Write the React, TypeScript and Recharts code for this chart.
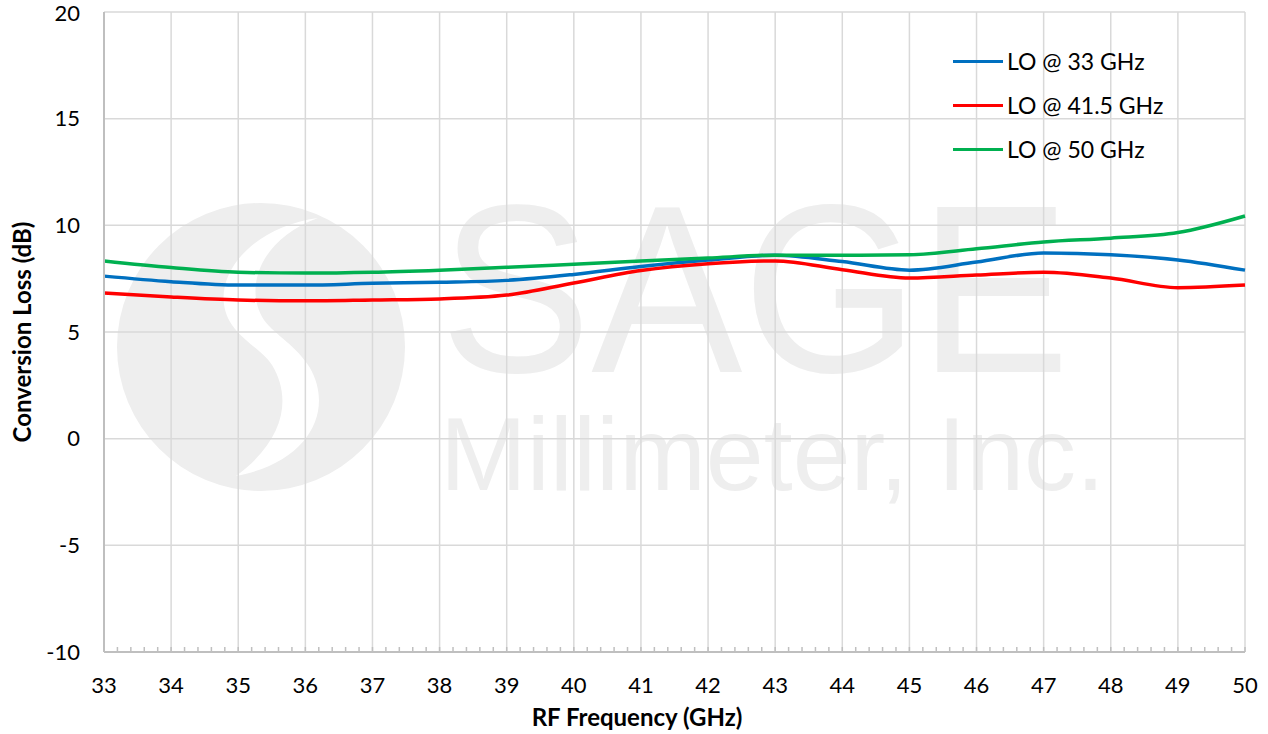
import React from 'react'
import { LineChart, Line, XAxis, YAxis, CartesianGrid, Legend } from 'recharts'

const FONT = 'Lato, "Noto Sans", sans-serif'

const freqGHz = [33, 34, 35, 36, 37, 38, 39, 40, 41, 42, 43, 44, 45, 46, 47, 48, 49, 50]
const lo33 = [7.62, 7.36, 7.2, 7.2, 7.28, 7.33, 7.42, 7.7, 8.07, 8.37, 8.6, 8.3, 7.9, 8.28, 8.7, 8.62, 8.38, 7.9]
const lo415 = [6.83, 6.64, 6.5, 6.46, 6.5, 6.55, 6.73, 7.3, 7.88, 8.2, 8.33, 7.92, 7.53, 7.67, 7.8, 7.53, 7.08, 7.2]
const lo50 = [8.33, 8.02, 7.8, 7.76, 7.8, 7.9, 8.03, 8.18, 8.33, 8.47, 8.6, 8.6, 8.62, 8.9, 9.22, 9.4, 9.66, 10.44]

const yTicks = [-10, -5, 0, 5, 10, 15, 20]
const series = [
  { key: 'lo33', name: 'LO @ 33 GHz', color: '#0070c0' },
  { key: 'lo415', name: 'LO @ 41.5 GHz', color: '#ff0000' },
  { key: 'lo50', name: 'LO @ 50 GHz', color: '#00b050' },
]

const data = freqGHz.map((f, i) => ({ f, lo33: lo33[i], lo415: lo415[i], lo50: lo50[i] }))

// minor tick positions (axis decoration only)
const minorX = Array.from({ length: 86 }, (_, i) => Math.round((33 + i * 0.2) * 10) / 10)
const minorY = Array.from({ length: 31 }, (_, i) => -10 + i)

const noLabel = () => <g />

function LegendBox() {
  return (
    <div style={{ fontFamily: FONT, fontSize: 23, color: '#000' }}>
      {series.map((s) => (
        <div key={s.key} style={{ display: 'flex', alignItems: 'center', height: 44 }}>
          <div style={{ width: 50, height: 3, background: s.color, marginRight: 4 }} />
          <span>{s.name}</span>
        </div>
      ))}
    </div>
  )
}

function Watermark() {
  return (
    <svg width={1268} height={734} style={{ position: 'absolute', left: 0, top: 0 }}>
      <g fill="#eeeeee">
        <circle cx={261} cy={347} r={144} />
        <text
          x={440}
          y={372}
          fontFamily="Liberation Sans, Arial, sans-serif"
          fontSize={240}
          textLength={630}
          lengthAdjust="spacingAndGlyphs"
        >
          SAGE
        </text>
        <text
          x={440}
          y={490}
          fontFamily="Liberation Sans, Arial, sans-serif"
          fontSize={104}
          textLength={665}
          lengthAdjust="spacingAndGlyphs"
        >
          Millimeter, Inc.
        </text>
      </g>
      <path
        d="M318 218 C245 228 205 285 232 325 C245 343 262 350 272 365 C292 398 285 440 236 476 C310 462 334 410 310 368 C296 345 276 336 264 320 C244 290 258 240 318 218 Z"
        fill="#fff"
      />
      <text x={637} y={726} textAnchor="middle" fontFamily={FONT} fontWeight="bold" fontSize={24}>
        RF Frequency (GHz)
      </text>
      <text
        x={0}
        y={0}
        transform="translate(31 332) rotate(-90)"
        textAnchor="middle"
        fontFamily={FONT}
        fontWeight="bold"
        fontSize={24}
      >
        Conversion Loss (dB)
      </text>
    </svg>
  )
}

export default function App() {
  return (
    <div style={{ position: 'absolute', left: 0, top: 0, width: 1268, height: 734, background: '#fff' }}>
      <Watermark />
      <div style={{ position: 'absolute', left: 0, top: 0 }}>
        <LineChart width={1268} height={734} data={data} margin={{ top: 12, right: 23, bottom: 0, left: 0 }}>
          <CartesianGrid stroke="#d9d9d9" strokeWidth={1.5} />
          <XAxis
            dataKey="f"
            type="number"
            domain={[33, 50]}
            ticks={freqGHz}
            height={82}
            tickLine={false}
            tickSize={0}
            tickMargin={25}
            axisLine={{ stroke: '#bfbfbf', strokeWidth: 2 }}
            tick={{ fill: '#000', fontSize: 22, fontFamily: FONT }}
          />
          <XAxis
            xAxisId="minor"
            dataKey="f"
            type="number"
            domain={[33, 50]}
            ticks={minorX}
            interval={0}
            mirror
            height={1}
            tick={noLabel}
            tickSize={5}
            axisLine={false}
            tickLine={{ stroke: '#bfbfbf', strokeWidth: 1.5 }}
          />
          <YAxis
            type="number"
            domain={[-10, 20]}
            ticks={yTicks}
            width={104}
            tickLine={false}
            tickSize={0}
            tickMargin={24}
            axisLine={{ stroke: '#bfbfbf', strokeWidth: 2 }}
            tick={{ fill: '#000', fontSize: 22, fontFamily: FONT }}
          />
          <YAxis
            yAxisId="minor"
            type="number"
            domain={[-10, 20]}
            ticks={minorY}
            interval={0}
            mirror
            width={1}
            tick={noLabel}
            tickSize={5}
            axisLine={false}
            tickLine={{ stroke: '#bfbfbf', strokeWidth: 1.5 }}
          />
          {series.map((s) => (
            <Line
              key={s.key}
              type="monotone"
              dataKey={s.key}
              name={s.name}
              stroke={s.color}
              strokeWidth={3.5}
              dot={false}
              isAnimationActive={false}
            />
          ))}
          <Legend
            layout="vertical"
            align="center"
            verticalAlign="middle"
            content={() => <LegendBox />}
            wrapperStyle={{ left: 953, top: 39, width: 260 }}
          />
        </LineChart>
      </div>
    </div>
  )
}
